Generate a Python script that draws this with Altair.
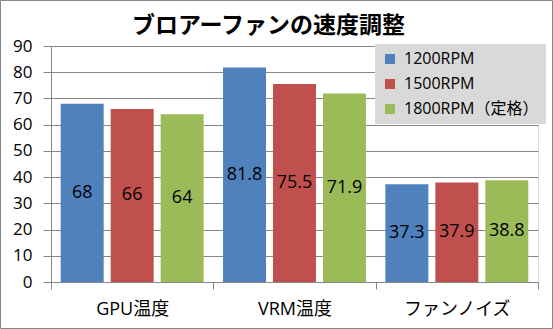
import altair as alt
import pandas as pd

categories = ["GPU温度", "VRM温度", "ファンノイズ"]
series = ["1200RPM", "1500RPM", "1800RPM（定格）"]
v1200 = [68, 81.8, 37.3]
v1500 = [66, 75.5, 37.9]
v1800 = [64, 71.9, 38.8]
colors = ["#4f81bd", "#c0504d", "#9bbb59"]
y_ticks = list(range(0, 100, 10))
title_text = "ブロアーファンの速度調整"

rows = []
for s, vals in zip(series, [v1200, v1500, v1800]):
    for c, v in zip(categories, vals):
        rows.append({"cat": c, "series": s, "value": v, "label": f"{v:g}"})
df = pd.DataFrame(rows)

FONT = "'Open Sans', 'Noto Sans CJK JP', sans-serif"
GRAY = "#868686"
W, H = 487, 236
PAD = {"left": 51, "top": 46, "right": 15, "bottom": 47}

yscale = alt.Scale(domain=[0, 90], nice=False)
xscale = alt.Scale(paddingInner=0, paddingOuter=0)
xoscale = alt.Scale(paddingInner=0.14, paddingOuter=0.194)

x_axis = alt.Axis(title=None, labelAngle=0, tickBand="extent", tickSize=7,
                  tickColor=GRAY, domainColor=GRAY, labelFont=FONT,
                  labelFontSize=18, labelColor="#000", labelPadding=11, grid=False)
y_axis = alt.Axis(title=None, values=y_ticks, grid=True, gridColor=GRAY,
                  tickColor=GRAY, domainColor=GRAY, tickSize=8,
                  labelOverlap=False, labelFont=FONT, labelFontSize=17,
                  labelColor="#000", labelPadding=11)

base = alt.Chart(df)

bars = base.mark_bar().encode(
    x=alt.X("cat:N", sort=categories, scale=xscale, axis=x_axis),
    xOffset=alt.XOffset("series:N", sort=series, scale=xoscale),
    y=alt.Y("value:Q", scale=yscale, axis=y_axis),
    color=alt.Color("series:N", sort=series,
                    scale=alt.Scale(domain=series, range=colors),
                    legend=alt.Legend(orient="none", legendX=324, legendY=-2,
                                      title=None, fillColor="#d9d9d9", padding=7,
                                      symbolType="square", symbolSize=100,
                                      symbolStrokeWidth=0, labelFont=FONT,
                                      labelFontSize=16, labelColor="#000",
                                      labelOffset=6, rowPadding=9, labelLimit=300)),
)

labels = base.transform_calculate(mid="datum.value / 2").mark_text(
    font=FONT, fontSize=18, color="#000", baseline="middle"
).encode(
    x=alt.X("cat:N", sort=categories, scale=xscale, axis=x_axis),
    xOffset=alt.XOffset("series:N", sort=series, scale=xoscale),
    y=alt.Y("mid:Q", scale=yscale, axis=y_axis),
    text="label:N",
)

border = alt.Chart(pd.DataFrame({"a": [0]})).mark_rect(
    fill=None, stroke=GRAY, strokeWidth=1
).encode(
    x=alt.value(-50.5), x2=alt.value(501.5),
    y=alt.value(-45.5), y2=alt.value(282.5),
)

chart = alt.layer(bars, labels, border).properties(
    width=W, height=H,
    title=alt.TitleParams(text=title_text, font="'Noto Sans CJK JP'", fontSize=23,
                          fontWeight="bold", anchor="middle", dx=-26, offset=-38,
                          color="#000"),
    autosize=alt.AutoSizeParams(type="none"),
    padding=PAD,
).configure_view(stroke=GRAY, strokeWidth=1).configure(background="white")

chart.save("out.html", embed_options={"renderer": "svg", "actions": False})
